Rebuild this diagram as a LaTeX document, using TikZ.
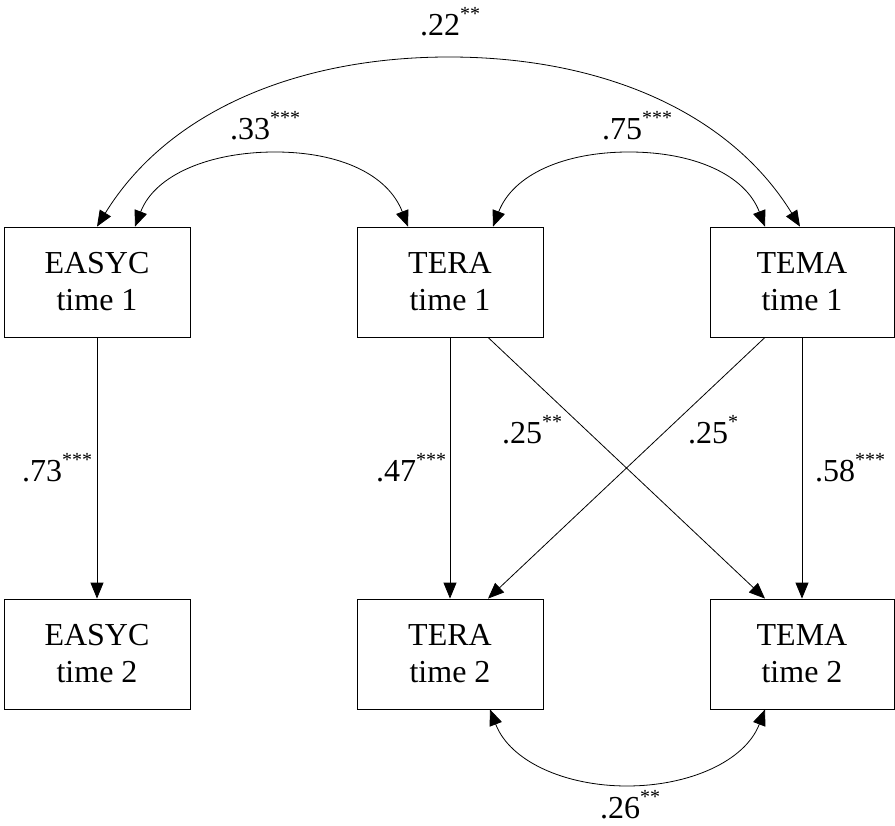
\documentclass[tikz,border=0pt]{standalone}
\usepackage{fontspec}
\setmainfont{Liberation Serif}
\usetikzlibrary{arrows.meta,calc}
\newcommand\sigst[1]{\raisebox{15pt}{\fontsize{20}{20}\selectfont #1}}
\begin{document}
\begin{tikzpicture}[x=1pt,y=-1pt,
 box/.style={draw, line width=0.8pt, minimum width=186pt, minimum height=110pt, inner sep=0pt, align=center, font=\fontsize{32}{37}\selectfont},
 lab/.style={anchor=base west, inner sep=0pt, font=\fontsize{32}{37}\selectfont},
 regr/.style={line width=0.8pt, -{Triangle[length=16pt,width=13pt]}},
 covar/.style={line width=0.8pt, {Triangle[length=16pt,width=13pt]}-{Triangle[length=16pt,width=13pt]}}]
\useasboundingbox (0,0) rectangle (895,826);
% boxes
\node[box] (E1) at (97,282) {EASYC\\time 1};
\node[box] (T1) at (450,282) {TERA\\time 1};
\node[box, minimum width=184pt] (M1) at (802,282) {TEMA\\time 1};
\node[box] (E2) at (97,654) {EASYC\\time 2};
\node[box] (T2) at (450,654) {TERA\\time 2};
\node[box, minimum width=184pt] (M2) at (802,654) {TEMA\\time 2};
% anchor points
\coordinate (e1a) at ($(E1.north)+(38,0)$);
\coordinate (t1a) at ($(T1.north)+(-42,0)$);
\coordinate (t1b) at ($(T1.north)+(43,0)$);
\coordinate (m1a) at ($(M1.north)+(-37,0)$);
\coordinate (m1b) at ($(M1.north)+(-2,0)$);
\coordinate (t1s) at ($(T1.south)+(38,0)$);
\coordinate (m1s) at ($(M1.south)+(-37,0)$);
\coordinate (t2n) at ($(T2.north)+(38,0)$);
\coordinate (m2n) at ($(M2.north)+(-37,0)$);
\coordinate (t2s) at ($(T2.south)+(40,0)$);
\coordinate (m2s) at ($(M2.south)+(-37,0)$);
\coordinate (p33) at (275,152);
\coordinate (p75) at (629,152);
\coordinate (p22) at (449,57);
\coordinate (p26) at (627,786);
% regressions
\draw[regr] (E1) -- (E2);
\draw[regr] (T1) -- (T2);
\draw[regr] (M1) -- (M2);
\draw[regr] (t1s) -- (m2n);
\draw[regr] (m1s) -- (t2n);
% covariances
\draw[covar] (e1a) .. controls +(20,-52) and +(-65,0) .. (p33) .. controls +(65,0) and +(-20,-52) .. (t1a);
\draw[covar] (t1b) .. controls +(20,-52) and +(-65,0) .. (p75) .. controls +(65,0) and +(-20,-52) .. (m1a);
\draw[covar] (E1.north) .. controls +(72,-117) and +(-149,0) .. (p22) .. controls +(149,0) and +(-72,-117) .. (m1b);
\draw[covar] (t2s) .. controls +(20,52) and +(-62,0) .. (p26) .. controls +(62,0) and +(-20,52) .. (m2s);
% labels
\node[lab] (l22) at (420,36) {.22\sigst{**}};
\node[lab] (l33) at (230,140) {.33\sigst{***}};
\node[lab] (l75) at (602,140) {.75\sigst{***}};
\node[lab] (l73) at (22,482) {.73\sigst{***}};
\node[lab] (l47) at (376,482) {.47\sigst{***}};
\node[lab] (l58) at (815,482) {.58\sigst{***}};
\node[lab] (l25a) at (502,443) {.25\sigst{**}};
\node[lab] (l25b) at (688,443) {.25\sigst{*}};
\node[lab] (l26) at (600,818) {.26\sigst{**}};
\end{tikzpicture}
\end{document}
